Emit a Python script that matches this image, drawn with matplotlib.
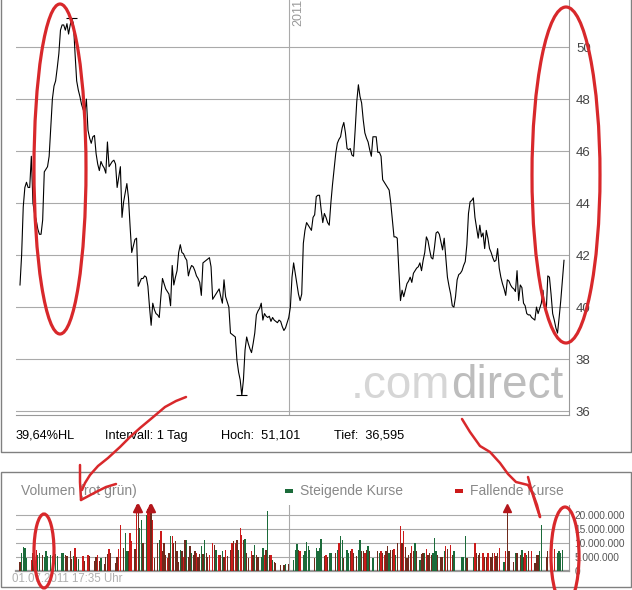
import matplotlib
matplotlib.use("Agg")
import matplotlib.pyplot as plt
from matplotlib.patches import Ellipse, Rectangle
from matplotlib.lines import Line2D
import numpy as np

plt.rcParams['font.family'] = ['Liberation Sans', 'DejaVu Sans']

# Schlusskurse (Tagesintervall), 01.07.2010 - 01.07.2011
kurs = [
    40.85, 42.0, 43.85, 44.6, 44.8, 44.6, 44.6, 45.8, 44.0, 43.6,
    43.35, 43.0, 42.8, 42.8, 43.35, 45.2, 45.3, 45.4, 45.8, 46.9,
    48.0, 48.5, 48.7, 49.2, 49.75, 50.65, 50.85, 50.85, 50.65, 50.9,
    50.5, 50.85, 51.1, 50.9, 49.75, 48.7, 48.35, 48.1, 47.8, 47.6,
    47.45, 48.0, 46.8, 46.5, 46.3, 46.55, 46.6, 45.9, 45.5, 45.25,
    45.6, 45.45, 45.35, 45.15, 46.35, 45.4, 45.5, 45.6, 45.65, 45.5,
    44.6, 45.0, 45.4, 43.45, 44.05, 44.4, 44.75, 44.2, 43.1, 42.1,
    42.35, 42.6, 42.65, 40.8, 40.95, 41.1, 41.1, 41.2, 41.15, 40.8,
    40.0, 39.3, 40.15, 39.9, 39.75, 39.7, 39.6, 40.4, 41.1, 40.9,
    40.7, 40.6, 40.5, 40.05, 41.6, 40.85, 41.15, 41.4, 42.1, 42.4,
    42.1, 42.05, 41.9, 41.8, 41.2, 41.45, 41.6, 41.55, 41.4, 41.2,
    41.1, 40.95, 40.45,
    41.7, 41.75, 41.8, 41.85, 41.9, 41.55, 40.3, 40.4, 40.5, 40.6,
    40.7, 40.4, 40.15, 41.05, 40.4, 40.2, 40.0, 39.0, 38.95, 38.9,
    38.85, 37.95, 37.5, 37.2, 36.6, 37.2, 38.35, 38.85, 38.6, 38.4,
    38.25, 38.6, 39.0, 39.7, 39.85, 39.95, 40.15, 39.5, 39.75, 39.65,
    39.6, 39.65, 39.45, 39.6, 39.5, 39.45, 39.4, 39.5, 39.45, 39.25,
    39.1, 39.2, 39.4, 39.6, 40.0, 41.15, 41.7, 41.3,
    40.9, 40.5, 40.25, 40.5, 42.45, 42.95, 43.25, 43.15, 43.05, 42.95,
    43.45, 43.55, 44.25, 44.3, 44.3, 43.75, 43.25, 43.6, 43.45, 43.25,
    43.15, 44.0, 44.7, 45.3, 45.9, 46.3, 46.45, 46.55, 46.9, 47.1,
    46.7, 46.1, 46.05, 46.1, 45.85, 45.8, 46.8, 47.9, 48.55, 48.1,
    47.85, 47.2, 46.7, 46.5, 46.35, 46.05, 45.8, 46.55, 46.55, 46.55,
    45.95, 45.95, 45.8, 44.9, 44.8, 44.7, 44.6, 44.5, 44.0, 43.35,
    42.7, 42.7, 42.65,
    41.4, 40.25, 40.65, 40.4, 40.65, 40.9, 41.0, 41.15, 40.95, 41.3,
    41.4, 41.5, 41.55, 41.7, 41.4, 41.8, 42.1, 42.7, 42.55, 42.2,
    41.9, 41.85, 42.3, 42.85, 42.9, 42.8, 42.5, 42.2, 42.65, 41.9,
    41.15, 40.8, 40.5, 40.05, 40.0, 40.4, 41.05, 41.25, 41.3, 41.4,
    41.6, 41.75, 42.4, 43.6, 44.05, 44.1, 44.2, 43.45, 43.05, 42.65,
    43.15, 42.7, 42.85, 42.25, 42.95, 42.65, 42.25, 42.1, 41.9, 41.75,
    41.8, 42.25, 41.5,
    41.15, 40.9, 40.7, 40.45, 41.05, 41.0, 40.85, 40.75, 40.7, 40.6,
    41.4, 40.25, 40.85, 40.75, 40.15, 40.05, 39.75, 39.7, 39.7, 39.6,
    39.55, 39.5, 40.0, 39.75, 39.95, 40.15, 40.65, 40.0, 39.8, 41.2,
    41.15, 40.5, 39.75, 39.5, 39.2, 39.0, 39.6, 40.25, 41.05, 41.8,
]
hoch = 51.101
tief = 36.595
jahr_start = 166          # erster Handelstag 2011
kurs_ticks = [36, 38, 40, 42, 44, 46, 48, 50]

# Volumen in Mio. Stueck; g = steigend, r = fallend, b = dunkel
vol_day = [
    0, 1, 2, 3, 4, 7, 8, 10, 11, 12,
    14, 15, 16, 17, 19, 20, 22, 23, 26, 27,
    28, 29, 31, 32, 33, 34, 35, 36, 39, 40,
    42, 43, 46, 47, 48, 49, 50, 52, 53, 54,
    55, 56, 59, 60, 61, 62, 64, 65, 66, 67,
    68, 69, 71, 72, 73, 74, 75, 76, 78, 79,
    80, 81, 82, 83, 85, 86, 87, 88, 89, 90,
    91, 92, 93, 94, 95, 96, 97, 98, 99, 100,
    101, 102, 103, 104, 105, 106, 107, 108, 109, 110,
    111, 112, 113, 114, 115, 116, 117, 119, 120, 121,
    123, 124, 125, 126, 127, 128, 130, 131, 132, 133,
    134, 135, 136, 137, 138, 139, 140, 141, 143, 144,
    145, 146, 147, 149, 150, 151, 152, 153, 154, 155,
    156, 157, 158, 161, 163, 164, 166,
    169, 170, 171, 172, 173, 175, 176, 177, 178, 179,
    182, 183, 184, 185, 186, 188, 189, 190, 191, 192,
    195, 196, 197, 198, 199, 200, 202, 203, 204, 205,
    206, 208, 209, 210, 211, 212, 213, 214, 215, 216,
    218, 221, 222, 223, 224, 225, 226, 227, 228, 229,
    230, 231, 232, 233, 235, 236, 237, 238, 239, 240,
    241, 242, 243, 244, 245, 247, 248, 249, 250, 251,
    252, 253, 254, 255, 256, 257, 258, 260, 261, 262,
    263, 264, 266, 267, 268, 273, 274, 275, 276, 280,
    281, 282, 283, 284, 286, 287, 288, 289, 291, 292,
    293, 294, 295, 296, 299, 300, 301, 302, 305, 306,
    307, 309, 310, 311, 312, 313, 314, 316, 318, 319,
    320, 321, 322, 325, 326, 328, 330, 332, 333, 334,
    335,
]
vol_mio = [
    3.0, 6.5, 8.4, 8.1, 4.5, 3.9, 6.3, 7.5, 5.7, 6.3,
    5.7, 5.1, 6.9, 5.3, 5.7, 5.3, 6.0, 5.3, 6.5, 6.5,
    5.7, 5.3, 6.9, 4.1, 5.3, 8.1, 4.8, 4.1, 5.3, 3.6,
    5.7, 5.3, 3.6, 4.8, 5.7, 3.6, 4.5, 2.4, 4.8, 6.0,
    7.7, 6.3, 2.7, 4.8, 7.7, 16.5, 8.1, 13.5, 7.2, 7.2,
    13.7, 10.5, 7.7, 26.0, 25.0, 15.3, 18.3, 9.9, 20.1, 22.0,
    26.0, 25.0, 18.3, 4.5, 9.9, 11.1, 14.1, 6.9, 9.9, 5.7,
    4.5, 6.3, 12.5, 12.5, 9.9, 10.5, 6.9, 3.3, 7.5, 6.9,
    5.1, 11.1, 11.1, 4.8, 8.7, 6.3, 5.7, 6.9, 6.3, 5.1,
    6.0, 8.7, 6.0, 11.1, 6.3, 4.8, 5.7, 10.1, 9.3, 7.5,
    5.7, 5.7, 6.9, 5.1, 7.5, 5.3, 7.5, 10.1, 10.5, 10.1,
    11.1, 7.5, 15.3, 12.9, 11.1, 11.3, 6.3, 4.5, 6.9, 5.7,
    9.3, 5.7, 4.8, 5.1, 8.1, 5.7, 7.5, 21.3, 5.7, 5.7,
    3.9, 3.3, 2.7, 2.0, 2.0, 2.3, 2.4,
    3.9, 7.5, 9.6, 7.5, 6.9, 5.7, 6.9, 10.2, 8.7, 7.5,
    4.5, 8.1, 6.9, 8.1, 11.4, 5.3, 5.7, 5.1, 6.5, 6.3,
    6.5, 7.5, 9.9, 12.3, 11.1, 4.5, 7.5, 6.3, 6.9, 7.8,
    6.3, 5.3, 7.5, 11.1, 6.9, 7.2, 6.3, 7.5, 8.7, 6.9,
    4.5, 6.9, 6.3, 6.9, 6.3, 5.7, 7.1, 8.7, 6.3, 7.5,
    7.5, 7.8, 5.7, 9.9, 16.1, 10.1, 14.1, 8.4, 4.5, 5.7,
    6.5, 8.9, 7.2, 10.1, 6.9, 3.9, 6.0, 6.3, 6.3, 7.7,
    5.7, 6.3, 5.7, 6.3, 11.7, 6.9, 5.7, 4.8, 5.1, 6.9,
    8.7, 7.7, 9.3, 5.7, 6.9, 5.1, 5.1, 12.3, 4.5, 5.1,
    10.1, 6.3, 5.7, 6.3, 6.5, 5.1, 5.1, 6.5, 4.8, 6.3,
    6.5, 5.3, 6.3, 8.1, 3.3, 6.9, 30.0, 6.9, 3.3, 6.5,
    6.5, 5.7, 7.5, 5.1, 6.3, 5.7, 6.9, 6.9, 2.9, 5.7,
    5.7, 6.9, 16.5, 4.8, 6.9, 7.7, 7.7, 6.3, 6.9, 6.3,
    7.5,
]
vol_kind = (
    "bggggrbrgg" "bggggbgggg" "bbbbgrbgrb" "rbbbrbgbbb" "rbbbrrbggb"
    "rrbrbggbgr" "rbrbbgrbbb" "rbgrbbbbgb" "rbgbbgbbrb" "bgbgbbrrbg"
    "rbgbrbbrbr" "bgrrbgbbrb" "gbbggrbgbr" "gbbbbgb"
    "gggbrggggg" "bggggbrbgg" "bgrggbggbr" "bbggbbrbgb" "gbgrbrbbgb"
    "brgbrbrbbb" "brbgbgbbgr" "bbbgggbbbg" "rbrbggggbg" "rbbbrbbrbb"
    "rbbrgrbbbg" "bbgbrgbrbb" "bggbbrrggg" "g"
)
vol_ticks = [0, 5, 10, 15, 20]
vol_max = 23.6

GRUEN = '#1b6b3a'
ROT = '#cc1a1a'
BRAUN = '#6e2a1c'
farbe = {'g': GRUEN, 'r': ROT, 'b': BRAUN}
STIFT = '#d8282b'

W, H = 632, 590
fig = plt.figure(figsize=(W / 100, H / 100), dpi=100)


def fx(x):
    return x / W


def fy(y):
    return 1 - y / H


n = len(kurs)
tage = np.arange(n)
step = (564 - 20) / (n - 1)
xlim = (-(20 - 16) / step, n - 1 + (569 - 564) / step)

# --- Kurschart ---
ax = fig.add_axes([fx(16), fy(415), (569 - 16) / W, 415 / H])
ax.plot(tage, kurs, color='black', lw=0.8, zorder=3)
i_hi = int(np.argmax(kurs))
i_lo = int(np.argmin(kurs))
ax.hlines([kurs[i_hi], kurs[i_lo]], [i_hi - 3.4, i_lo - 3.4], [i_hi + 3.4, i_lo + 3.4],
          color='black', lw=0.8, zorder=3)
ax.set_xlim(xlim)
ax.set_ylim(35.85, 51.81)
ax.set_xticks([])
ax.set_yticks(kurs_ticks)
ax.yaxis.tick_right()
ax.tick_params(axis='y', length=0, pad=5, labelsize=9.5, labelcolor='#444444')
ax.grid(axis='y', color='#aaaaaa', lw=0.8)
ax.axvline(jahr_start, color='#aaaaaa', lw=0.8)
for s in ['left', 'top']:
    ax.spines[s].set_visible(False)
for s in ['right', 'bottom']:
    ax.spines[s].set_color('#999999')
    ax.spines[s].set_linewidth(0.8)

fig.text(fx(292.5), fy(26), '2011', rotation=90, ha='left', va='bottom',
         fontsize=9, color='#999999')

# Wasserzeichen
fig.text(fx(450), fy(398), '.com', ha='right', va='baseline', fontsize=33, color='#d6d6d6')
fig.text(fx(451), fy(398), 'direct', ha='left', va='baseline', fontsize=33, color='#bdbdbd')

hl = (hoch - tief) / tief * 100
fig.text(fx(16), fy(439), f'{hl:.2f}'.replace('.', ',') + '%HL', fontsize=9.2, va='baseline')
fig.text(fx(105), fy(439), 'Intervall: 1 Tag', fontsize=9.2, va='baseline')
fig.text(fx(221), fy(439), 'Hoch:  ' + f'{hoch:.3f}'.replace('.', ','), fontsize=9.2, va='baseline')
fig.text(fx(334), fy(439), 'Tief:  ' + f'{tief:.3f}'.replace('.', ','), fontsize=9.2, va='baseline')

# Rahmen oben
rahmen = '#808080'
fig.add_artist(Line2D([fx(0.5), fx(0.5), fx(631), fx(631)], [fy(0), fy(452), fy(452), fy(0)],
                      transform=fig.transFigure, color=rahmen, lw=1))

# --- Volumen ---
vax = fig.add_axes([fx(16), fy(570.7), (569 - 16) / W, (570.7 - 505) / H])
hoehen = np.minimum(vol_mio, vol_max)
vax.bar(vol_day, hoehen, width=0.8, color=[farbe[k] for k in vol_kind], zorder=3)
for d, v in zip(vol_day, vol_mio):
    if v > vol_max:
        vax.plot(d, vol_max - 1.2, marker='^', ms=5.5, color='#b3161b', clip_on=False, zorder=4)
vax.set_xlim(xlim)
vax.set_ylim(0, vol_max)
vax.set_xticks([])
vax.set_yticks(vol_ticks)
vax.set_yticklabels(['0' if v == 0 else f'{v * 1000000:,}'.replace(',', '.') for v in vol_ticks])
vax.yaxis.tick_right()
vax.tick_params(axis='y', length=0, pad=4, labelsize=7.3, labelcolor='#555555')
vax.grid(axis='y', color='#aaaaaa', lw=0.8, zorder=0)
vax.axvline(jahr_start, color='#aaaaaa', lw=0.8, zorder=1)
for s in ['left', 'top']:
    vax.spines[s].set_visible(False)
vax.spines['right'].set_color('#999999')
vax.spines['right'].set_linewidth(0.8)
vax.spines['bottom'].set_color('#999999')
vax.spines['bottom'].set_linewidth(1.6)

fig.add_artist(Rectangle((fx(0.5), fy(587)), fx(630.5), 115 / H, transform=fig.transFigure,
                         fill=False, ec=rahmen, lw=1))
fig.text(fx(21), fy(495), 'Volumen (rot grün)', fontsize=10, color='#888888', va='baseline')
fig.add_artist(Rectangle((fx(285), fy(493)), 8 / W, 4 / H, transform=fig.transFigure,
                         color=GRUEN, lw=0))
fig.text(fx(300), fy(495), 'Steigende Kurse', fontsize=10, color='#888888', va='baseline')
fig.add_artist(Rectangle((fx(455), fy(493)), 8 / W, 4 / H, transform=fig.transFigure,
                         color=ROT, lw=0))
fig.text(fx(470), fy(495), 'Fallende Kurse', fontsize=10, color='#888888', va='baseline')
fig.text(fx(12), fy(582), '01.07.2011 17:35 Uhr', fontsize=8.3, color='#b0b0b0', va='baseline')

# --- Handschriftliche Markierungen ---
for cx, cy, w, h in [(60, 169, 52, 330), (566, 175, 68, 336), (44, 551, 20, 74), (565, 556, 28, 98)]:
    fig.add_artist(Ellipse((fx(cx), fy(cy)), w / W, h / H, transform=fig.transFigure,
                           fill=False, ec=STIFT, lw=2.3, zorder=10))


def strich(pts):
    xs = [fx(p[0]) for p in pts]
    ys = [fy(p[1]) for p in pts]
    fig.add_artist(Line2D(xs, ys, transform=fig.transFigure, color=STIFT, lw=1.8,
                          solid_capstyle='round', solid_joinstyle='round', zorder=10))


strich([(186, 397), (176, 401), (165, 407), (152, 418), (140, 428), (130, 437),
        (120, 447), (108, 458), (98, 466), (90, 475), (85, 483), (82, 490)])
strich([(80, 465), (80, 482), (81, 500)])
strich([(81, 500), (96, 492), (106, 487), (116, 484)])
strich([(462, 419), (470, 432), (480, 446), (490, 452), (500, 463), (508, 474),
        (516, 482), (528, 485), (533, 494), (537, 505), (540, 517)])
strich([(528, 477), (532, 492), (536, 505), (540, 517)])

fig.savefig('out.png', dpi=100)
